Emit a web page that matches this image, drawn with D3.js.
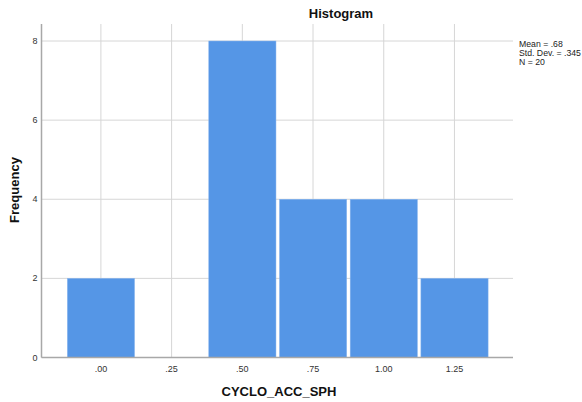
<!DOCTYPE html>
<html>
<head>
<meta charset="utf-8">
<script src="https://cdn.jsdelivr.net/npm/d3@7"></script>
<style>
  body { margin: 0; background: #fff; }
  svg { display: block; font-family: 'Liberation Sans', Arial, sans-serif; }
</style>
</head>
<body>
<svg width="582" height="402"></svg>
<script>
// bin centres and counts
const binCenters = [0, 0.25, 0.5, 0.75, 1.0, 1.25]
const counts = [2, 0, 8, 4, 4, 2]
const binWidth = 0.25
const xTicks = [0, 0.25, 0.5, 0.75, 1.0, 1.25]
const xTickLabels = ['.00', '.25', '.50', '.75', '1.00', '1.25']
const yTicks = [0, 2, 4, 6, 8]
const statsLines = ['Mean = .68', 'Std. Dev. = .345', 'N = 20']

const svg = d3.select('svg')
const plotLeft = 41.5, plotRight = 513, plotTop = 24, plotBottom = 357.5

const x = d3.scaleLinear().domain([-0.21, 1.457]).range([plotLeft, plotRight])
const y = d3.scaleLinear().domain([0, 8.43]).range([plotBottom, plotTop])

// grid
svg.append('g')
  .selectAll('line')
  .data(yTicks)
  .join('line')
  .attr('x1', plotLeft).attr('x2', plotRight)
  .attr('y1', d => y(d)).attr('y2', d => y(d))
  .attr('stroke', '#d6d6d6').attr('stroke-width', 1)

svg.append('g')
  .selectAll('line')
  .data(xTicks)
  .join('line')
  .attr('x1', d => x(d)).attr('x2', d => x(d))
  .attr('y1', plotTop).attr('y2', plotBottom)
  .attr('stroke', '#d6d6d6').attr('stroke-width', 1)

// bars
svg.append('g')
  .selectAll('rect')
  .data(binCenters.map((c, i) => ({ c, n: counts[i] })).filter(d => d.n > 0))
  .join('rect')
  .attr('x', d => x(d.c - binWidth / 2) + 1.8)
  .attr('width', d => x(d.c + binWidth / 2) - x(d.c - binWidth / 2) - 3.5)
  .attr('y', d => y(d.n))
  .attr('height', d => y(0) - y(d.n))
  .attr('fill', '#5596e6')
  .attr('stroke', '#8ab6ee')
  .attr('stroke-width', 0.5)

// axis lines
svg.append('line')
  .attr('x1', plotLeft).attr('x2', plotLeft).attr('y1', plotTop).attr('y2', plotBottom)
  .attr('stroke', '#a8a8a8').attr('stroke-width', 1.5)
svg.append('line')
  .attr('x1', plotLeft).attr('x2', plotRight).attr('y1', plotBottom).attr('y2', plotBottom)
  .attr('stroke', '#a8a8a8').attr('stroke-width', 1.5)

// tick labels
svg.append('g')
  .selectAll('text')
  .data(yTicks)
  .join('text')
  .attr('x', plotLeft - 4)
  .attr('y', d => y(d) + 3)
  .attr('text-anchor', 'end')
  .attr('font-size', '9px')
  .attr('fill', '#333')
  .text(d => d)

svg.append('g')
  .selectAll('text')
  .data(xTicks)
  .join('text')
  .attr('x', d => x(d))
  .attr('y', 372)
  .attr('text-anchor', 'middle')
  .attr('font-size', '9px')
  .attr('fill', '#333')
  .text((d, i) => xTickLabels[i])

// titles
svg.append('text')
  .attr('x', 341).attr('y', 18)
  .attr('text-anchor', 'middle')
  .attr('font-size', '13px').attr('font-weight', 'bold')
  .attr('fill', '#111')
  .text('Histogram')

svg.append('text')
  .attr('transform', 'translate(19,190) rotate(-90)')
  .attr('text-anchor', 'middle')
  .attr('font-size', '13px').attr('font-weight', 'bold')
  .attr('fill', '#111')
  .text('Frequency')

svg.append('text')
  .attr('x', 279).attr('y', 396)
  .attr('text-anchor', 'middle')
  .attr('font-size', '13px').attr('font-weight', 'bold')
  .attr('fill', '#111')
  .text('CYCLO_ACC_SPH')

// stats box
svg.append('g')
  .selectAll('text')
  .data(statsLines)
  .join('text')
  .attr('x', 519)
  .attr('y', (d, i) => 46.5 + i * 9.3)
  .attr('font-size', '8.7px')
  .attr('fill', '#222')
  .text(d => d)
</script>
</body>
</html>
